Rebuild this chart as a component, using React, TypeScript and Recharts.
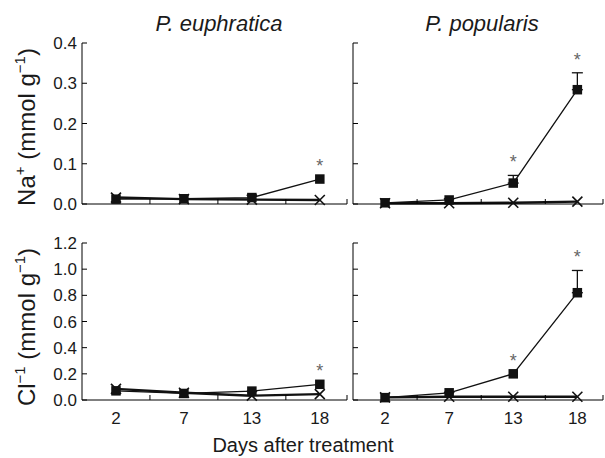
import { LineChart, Line, XAxis, YAxis, ErrorBar } from 'recharts';

const days = ['2', '7', '13', '18'];

// Na+ content
const naEuphSalt = [0.012, 0.013, 0.016, 0.062];
const naEuphCtrl = [0.016, 0.012, 0.011, 0.010];
const naEuphErr = [0, 0, 0, 0];
const naEuphSig = [false, false, false, true];

const naPopSalt = [0.003, 0.010, 0.052, 0.284];
const naPopCtrl = [0.002, 0.002, 0.003, 0.006];
const naPopErr = [0, 0, 0.019, 0.042];
const naPopSig = [false, false, true, true];

// Cl- content
const clEuphSalt = [0.07, 0.05, 0.068, 0.12];
const clEuphCtrl = [0.085, 0.055, 0.033, 0.045];
const clEuphErr = [0, 0, 0, 0];
const clEuphSig = [false, false, false, true];

const clPopSalt = [0.018, 0.055, 0.2, 0.82];
const clPopCtrl = [0.02, 0.025, 0.025, 0.025];
const clPopErr = [0, 0, 0, 0.17];
const clPopSig = [false, false, true, true];

const naTicks = [0, 0.1, 0.2, 0.3, 0.4];
const clTicks = [0, 0.2, 0.4, 0.6, 0.8, 1.0, 1.2];
const xTicks = [0, 0.5, 1, 1.5, 2, 2.5, 3, 3.4];

const FONT = '"Liberation Sans", Arial, Helvetica, sans-serif';
const INK = '#1a1a1a';

function rows(salt: number[], ctrl: number[], err: number[], sig: boolean[]) {
  return days.map((d, i) => ({
    x: i,
    day: d,
    salt: salt[i],
    ctrl: ctrl[i],
    err: err[i] > 0 ? [0, err[i]] : null,
    star: sig[i] ? salt[i] + err[i] : null,
  }));
}

const SquareDot = (p: any) => {
  if (p.cx == null || p.cy == null) return <g key={p.index} />;
  return <rect key={p.index} x={p.cx - 4.75} y={p.cy - 4.75} width={9.5} height={9.5} fill="#111" />;
};

const CrossDot = (p: any) => {
  if (p.cx == null || p.cy == null) return <g key={p.index} />;
  const s = 5;
  return (
    <g key={p.index} stroke="#111" strokeWidth={1.6}>
      <line x1={p.cx - s} y1={p.cy - s} x2={p.cx + s} y2={p.cy + s} />
      <line x1={p.cx - s} y1={p.cy + s} x2={p.cx + s} y2={p.cy - s} />
    </g>
  );
};

const StarDot = (p: any) => {
  if (p.cx == null || p.cy == null || p.value == null) return <g key={p.index} />;
  return (
    <text key={p.index} x={p.cx} y={p.cy - 7} textAnchor="middle" fontSize={18} fill="#666" fontFamily={FONT}>
      *
    </text>
  );
};

function makeXTick(showLabel: boolean) {
  return (p: any) => {
    const v = p.payload.value;
    if (Number.isInteger(v)) {
      if (!showLabel) return <g />;
      return (
        <text x={p.x} y={p.y + 24} textAnchor="middle" fontSize={17} fill={INK} fontFamily={FONT}>
          {days[v]}
        </text>
      );
    }
    return <line x1={p.x} y1={p.y} x2={p.x} y2={p.y - 5} stroke="#000" />;
  };
}

function makeYTick(showLabel: boolean) {
  return (p: any) => (
    <g>
      <line x1={p.x} y1={p.y} x2={p.x + 5} y2={p.y} stroke="#000" />
      {showLabel && (
        <text x={p.x - 5} y={p.y} dy="0.36em" textAnchor="end" fontSize={17} fill={INK} fontFamily={FONT}>
          {p.payload.value.toFixed(1)}
        </text>
      )}
    </g>
  );
}

interface PanelProps {
  data: ReturnType<typeof rows>;
  yTicks: number[];
  margin: { top: number; left: number; right: number; bottom: number };
  showY: boolean;
  showX: boolean;
}

function Panel({ data, yTicks, margin, showY, showX }: PanelProps) {
  return (
    <div style={{ position: 'absolute', left: 0, top: 0 }}>
      <LineChart width={605} height={458} data={data} margin={margin}>
        <XAxis
          type="number"
          dataKey="x"
          domain={[-0.5, 3.4]}
          ticks={xTicks}
          interval={0}
          height={1}
          tickSize={0}
          tickMargin={0}
          tickLine={false}
          axisLine={{ stroke: '#000' }}
          tick={makeXTick(showX)}
        />
        <YAxis
          type="number"
          domain={[yTicks[0], yTicks[yTicks.length - 1]]}
          ticks={yTicks}
          interval={0}
          width={1}
          tickSize={0}
          tickMargin={0}
          tickLine={false}
          axisLine={{ stroke: '#000' }}
          tick={makeYTick(showY)}
        />
        <Line dataKey="ctrl" stroke="#111" strokeWidth={2.4} dot={CrossDot} isAnimationActive={false} />
        <Line dataKey="salt" stroke="#111" strokeWidth={1.3} dot={SquareDot} isAnimationActive={false}>
          <ErrorBar dataKey="err" direction="y" width={5.5} stroke="#111" strokeWidth={1.3} />
        </Line>
        <Line dataKey="star" stroke="none" dot={StarDot} activeDot={false} isAnimationActive={false} />
      </LineChart>
    </div>
  );
}

export default function App() {
  return (
    <div style={{ position: 'absolute', left: 0, top: 0, width: 605, height: 458, background: '#fff', fontFamily: FONT }}>
      <Panel
        data={rows(naEuphSalt, naEuphCtrl, naEuphErr, naEuphSig)}
        yTicks={naTicks}
        margin={{ top: 43, left: 81, right: 258, bottom: 253 }}
        showY
        showX={false}
      />
      <Panel
        data={rows(naPopSalt, naPopCtrl, naPopErr, naPopSig)}
        yTicks={naTicks}
        margin={{ top: 43, left: 352, right: 2, bottom: 253 }}
        showY={false}
        showX={false}
      />
      <Panel
        data={rows(clEuphSalt, clEuphCtrl, clEuphErr, clEuphSig)}
        yTicks={clTicks}
        margin={{ top: 243, left: 81, right: 258, bottom: 57 }}
        showY
        showX
      />
      <Panel
        data={rows(clPopSalt, clPopCtrl, clPopErr, clPopSig)}
        yTicks={clTicks}
        margin={{ top: 243, left: 352, right: 2, bottom: 57 }}
        showY={false}
        showX
      />
      <svg width={605} height={458} style={{ position: 'absolute', left: 0, top: 0, pointerEvents: 'none' }} fontFamily={FONT} fill={INK}>
        <text x={219} y={31} textAnchor="middle" fontSize={22} fontStyle="italic">P. euphratica</text>
        <text x={482} y={31} textAnchor="middle" fontSize={22} fontStyle="italic">P. popularis</text>
        <text transform="translate(35,127) rotate(-90)" textAnchor="middle" fontSize={24}>
          Na<tspan fontSize={15} dy={-10}>+</tspan>
          <tspan dy={10}> (mmol g</tspan>
          <tspan fontSize={15} dy={-10}>−1</tspan>
          <tspan dy={10}>)</tspan>
        </text>
        <text transform="translate(35,327) rotate(-90)" textAnchor="middle" fontSize={24}>
          Cl<tspan fontSize={15} dy={-10}>−1</tspan>
          <tspan dy={10}> (mmol g</tspan>
          <tspan fontSize={15} dy={-10}>−1</tspan>
          <tspan dy={10}>)</tspan>
        </text>
        <text x={303} y={452} textAnchor="middle" fontSize={20}>Days after treatment</text>
      </svg>
    </div>
  );
}
